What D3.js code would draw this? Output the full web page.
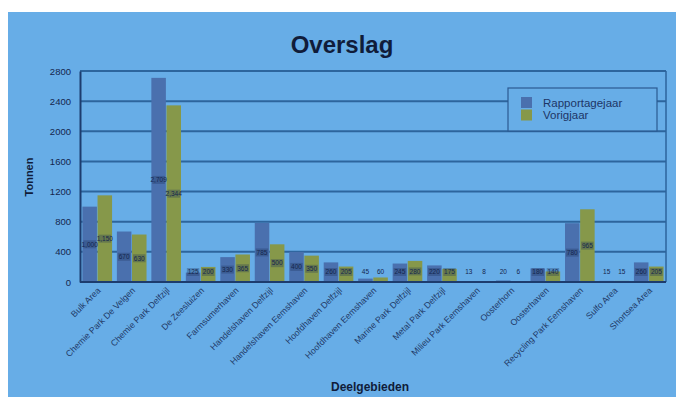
<!DOCTYPE html>
<html>
<head>
<meta charset="utf-8">
<script src="https://cdn.jsdelivr.net/npm/d3@7"></script>
<style>
  html, body { margin: 0; padding: 0; background: #ffffff; }
  svg { display: block; font-family: "Liberation Sans", Arial, sans-serif; }
</style>
</head>
<body>
<svg id="chart" width="683" height="401"></svg>
<script>
// Overslag per deelgebied: rapportagejaar vs. vorigjaar (tonnen)
const categories = [
  "Bulk Area", "Chemie Park De Velgen", "Chemie Park Delfzijl", "De Zeesluizen",
  "Farmsumerhaven", "Handelshaven Delfzijl", "Handelshaven Eemshaven",
  "Hoofdhaven Delfzijl", "Hoofdhaven Eemshaven", "Marine Park Delfzijl",
  "Metal Park Delfzijl", "Milieu Park Eemshaven", "Oosterhorn", "Oosterhaven",
  "Recycling Park Eemshaven", "Sulfo Area", "Shortsea Area"
];
const rapportagejaar = [1000, 670, 2709, 125, 330, 785, 400, 260, 45, 245, 220, 13, 20, 180, 780, 15, 260];
const vorigjaar      = [1150, 630, 2344, 200, 365, 500, 350, 205, 60, 280, 175,  8,  6, 140, 965, 15, 205];
const seriesNames = ["Rapportagejaar", "Vorigjaar"];
const yTicks = [0, 400, 800, 1200, 1600, 2000, 2400, 2800];

const colors = { blue: "#4a70ae", green: "#86984a" };
const ink = "#15264d";

const svg = d3.select("#chart");

// chart panel
svg.append("rect").attr("x", 8).attr("y", 12).attr("width", 668).attr("height", 385)
  .attr("fill", "#67ade7");

const m = { left: 80, right: 666, top: 71, bottom: 282 };

const x = d3.scaleBand().domain(categories).range([m.left, m.right])
  .paddingInner(0.14).paddingOuter(0.07);
const x1 = d3.scaleBand().domain(seriesNames).range([0, x.bandwidth()]).paddingInner(0.04);
const y = d3.scaleLinear().domain([0, 2800]).range([m.bottom, m.top]);

// gridlines
svg.append("g").selectAll("line").data(yTicks.slice(1)).join("line")
  .attr("x1", m.left).attr("x2", m.right)
  .attr("y1", d => y(d)).attr("y2", d => y(d))
  .attr("stroke", "#2d659d").attr("stroke-width", 2);

// right border of plot area
svg.append("line").attr("x1", m.right).attr("x2", m.right)
  .attr("y1", m.top).attr("y2", m.bottom).attr("stroke", "#2d659d").attr("stroke-width", 1.5);

// y axis
const yAxis = svg.append("g").attr("transform", `translate(${m.left},0)`)
  .call(d3.axisLeft(y).tickValues(yTicks).tickSize(0).tickPadding(9).tickFormat(d3.format("d")));
yAxis.select(".domain").attr("stroke", "#1d3c6e").attr("stroke-width", 2);
yAxis.selectAll("text").attr("font-size", 9.5).attr("fill", ink)
  .attr("font-family", "Liberation Sans, Arial, sans-serif");

// bars
const rows = categories.map((c, i) => ({ cat: c, vals: [
  { s: seriesNames[0], v: rapportagejaar[i], col: colors.blue },
  { s: seriesNames[1], v: vorigjaar[i], col: colors.green }
]}));

const groups = svg.append("g").selectAll("g").data(rows).join("g")
  .attr("transform", d => `translate(${x(d.cat)},0)`);

groups.selectAll("rect.bar").data(d => d.vals).join("rect").attr("class", "bar")
  .attr("x", d => x1(d.s)).attr("width", x1.bandwidth())
  .attr("y", d => y(d.v)).attr("height", d => y(0) - y(d.v))
  .attr("fill", d => d.col);

// value labels
const labelY = d => Math.min((y(d.v) + y(0)) / 2, y(0) - 10);
groups.selectAll("rect.lab").data(d => d.vals.filter(v => v.v >= 100)).join("rect").attr("class", "lab")
  .attr("x", d => x1(d.s) + 1).attr("width", x1.bandwidth() - 2)
  .attr("y", d => labelY(d) - 4).attr("height", 8)
  .attr("fill", "#1b2f55").attr("opacity", 0.3);
groups.selectAll("text.val").data(d => d.vals).join("text").attr("class", "val")
  .attr("x", d => x1(d.s) + x1.bandwidth() / 2)
  .attr("y", d => labelY(d))
  .attr("dy", "0.35em").attr("text-anchor", "middle")
  .attr("font-size", 6.5).attr("fill", ink)
  .text(d => d3.format(",")(d.v));

// x axis baseline
svg.append("line").attr("x1", m.left).attr("x2", m.right)
  .attr("y1", y(0)).attr("y2", y(0)).attr("stroke", "#1d3c6e").attr("stroke-width", 2);

// category labels
svg.append("g").selectAll("text").data(categories).join("text")
  .attr("transform", d => `translate(${x(d) + x.bandwidth() / 2 + 4},${m.bottom + 9}) rotate(-45)`)
  .attr("text-anchor", "end").attr("font-size", 8.8).attr("fill", "#1f3a68")
  .text(d => d);

// titles
svg.append("text").attr("x", 342).attr("y", 53).attr("text-anchor", "middle")
  .attr("font-size", 24).attr("font-weight", "bold").attr("fill", "#101c3a").text("Overslag");
svg.append("text").attr("transform", "translate(33,177) rotate(-90)")
  .attr("text-anchor", "middle").attr("font-size", 11).attr("font-weight", "bold")
  .attr("fill", "#101c3a").text("Tonnen");
svg.append("text").attr("x", 370).attr("y", 391).attr("text-anchor", "middle")
  .attr("font-size", 12).attr("font-weight", "bold").attr("fill", "#101c3a").text("Deelgebieden");

// legend
const lg = svg.append("g").attr("transform", "translate(508,88)");
lg.append("rect").attr("width", 149).attr("height", 43)
  .attr("fill", "#67ade7").attr("stroke", "#2b5a92").attr("stroke-width", 1.2);
const items = lg.selectAll("g").data(seriesNames).join("g")
  .attr("transform", (d, i) => `translate(13,${9 + i * 12.5})`);
items.append("rect").attr("width", 11).attr("height", 11)
  .attr("fill", (d, i) => i === 0 ? colors.blue : colors.green);
items.append("text").attr("x", 22).attr("y", 5.5).attr("dy", "0.35em")
  .attr("font-size", 11.5).attr("fill", "#1d3566").text(d => d);
</script>
</body>
</html>
